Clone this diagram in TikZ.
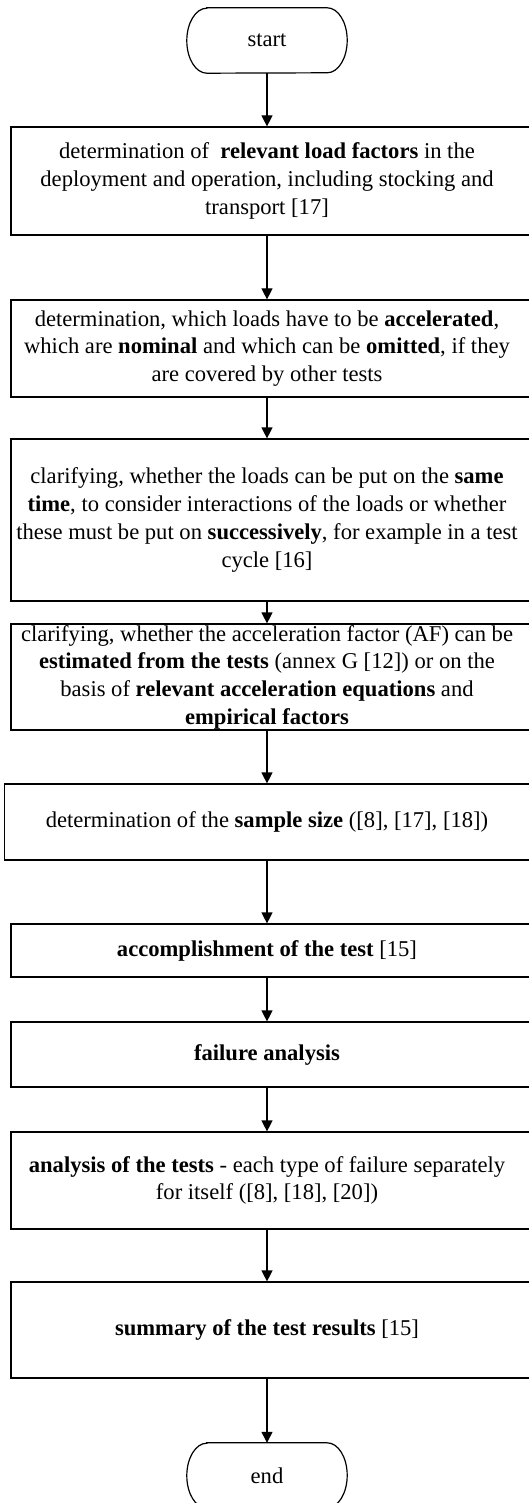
\documentclass[tikz,border=0pt]{standalone}
\usepackage{fontspec}
\setmainfont{Liberation Serif}
\usetikzlibrary{arrows.meta}
\begin{document}
\begin{tikzpicture}[x=1pt,y=-1pt,
  every node/.style={font=\fontsize{22.6}{27.7}\selectfont, inner sep=0pt},
  line/.style={line width=1.2pt, draw=black},
  arr/.style={line, -{Triangle[width=11pt,length=11pt]}},
  stepbox/.style={line, draw, rectangle, minimum width=520pt, anchor=center},
  term/.style={minimum width=160pt, minimum height=65pt}
]
\useasboundingbox (0,0) rectangle (529,1503);
\newcommand{\bxt}[2][8pt]{\parbox{510pt}{\centering #2}\hspace*{#1}}

% terminals
\node[term] (start) at (267,40.5) {start};
\draw[line] ([xshift=20pt]start.north west) -- ([xshift=-20pt]start.north east)
  arc[start angle=90,end angle=-90,x radius=20pt,y radius=32.5pt]
  -- ([xshift=20pt]start.south west)
  arc[start angle=270,end angle=90,x radius=20pt,y radius=32.5pt] -- cycle;

\node[term] (end) at (267,1475.5) {end};
\draw[line] ([xshift=20pt]end.north west) -- ([xshift=-20pt]end.north east)
  arc[start angle=90,end angle=-90,x radius=20pt,y radius=32.5pt]
  -- ([xshift=20pt]end.south west)
  arc[start angle=270,end angle=90,x radius=20pt,y radius=32.5pt] -- cycle;

% process boxes (left edge 11, right edge beyond the page)
\node[stepbox, minimum height=108pt] (b1) at (271,181) {\bxt{determination of \ \textbf{relevant load factors} in the\\ deployment and operation, including stocking and\\ transport [17]}};
\node[stepbox, minimum height=97pt] (b2) at (271,348.5) {\bxt{determination, which loads have to be \textbf{accelerated},\\ which are \textbf{nominal} and which can be \textbf{omitted}, if they\\ are covered by other tests}};
\node[stepbox, minimum height=162pt] (b3) at (271,520) {\bxt{clarifying, whether the loads can be put on the \textbf{same}\\ \textbf{time}, to consider interactions of the loads or whether\\ these must be put on \textbf{successively}, for example in a test\\ cycle [16]}};
\node[stepbox, minimum height=106pt] (b4) at (271,677) {\bxt{clarifying, whether the acceleration factor (AF) can be\\ \textbf{estimated from the tests} (annex G [12]) or on the\\ basis of \textbf{relevant acceleration equations} and\\ \textbf{empirical factors}}};
\node[stepbox, minimum width=526.3pt, minimum height=76pt] (b5) at (267.85,822) {\bxt[1.7pt]{determination of the \textbf{sample size} ([8], [17], [18])}};
\node[stepbox, minimum height=53pt] (b6) at (271,950.5) {\bxt{\textbf{accomplishment of the test} [15]}};
\node[stepbox, minimum height=65pt] (b7) at (271,1054.5) {\bxt{\textbf{failure analysis}}};
\node[stepbox, minimum height=97pt] (b8) at (271,1180.5) {\bxt{\textbf{analysis of the tests} - each type of failure separately\\ for itself ([8], [18], [20])}};
\node[stepbox, minimum height=96pt] (b9) at (271,1330) {\bxt{\textbf{summary of the test results} [15]}};

% connectors
\draw[arr] (start.south) -- (start.south |- b1.north);
\draw[arr] (b1.south -| start) -- (b2.north -| start);
\draw[arr] (b2.south -| start) -- (b3.north -| start);
\draw[arr] (b3.south -| start) -- (b4.north -| start);
\draw[arr] (b4.south -| start) -- (b5.north -| start);
\draw[arr] (b5.south -| start) -- (b6.north -| start);
\draw[arr] (b6.south -| start) -- (b7.north -| start);
\draw[arr] (b7.south -| start) -- (b8.north -| start);
\draw[arr] (b8.south -| start) -- (b9.north -| start);
\draw[arr] (b9.south -| start) -- (end.north);
\end{tikzpicture}
\end{document}
